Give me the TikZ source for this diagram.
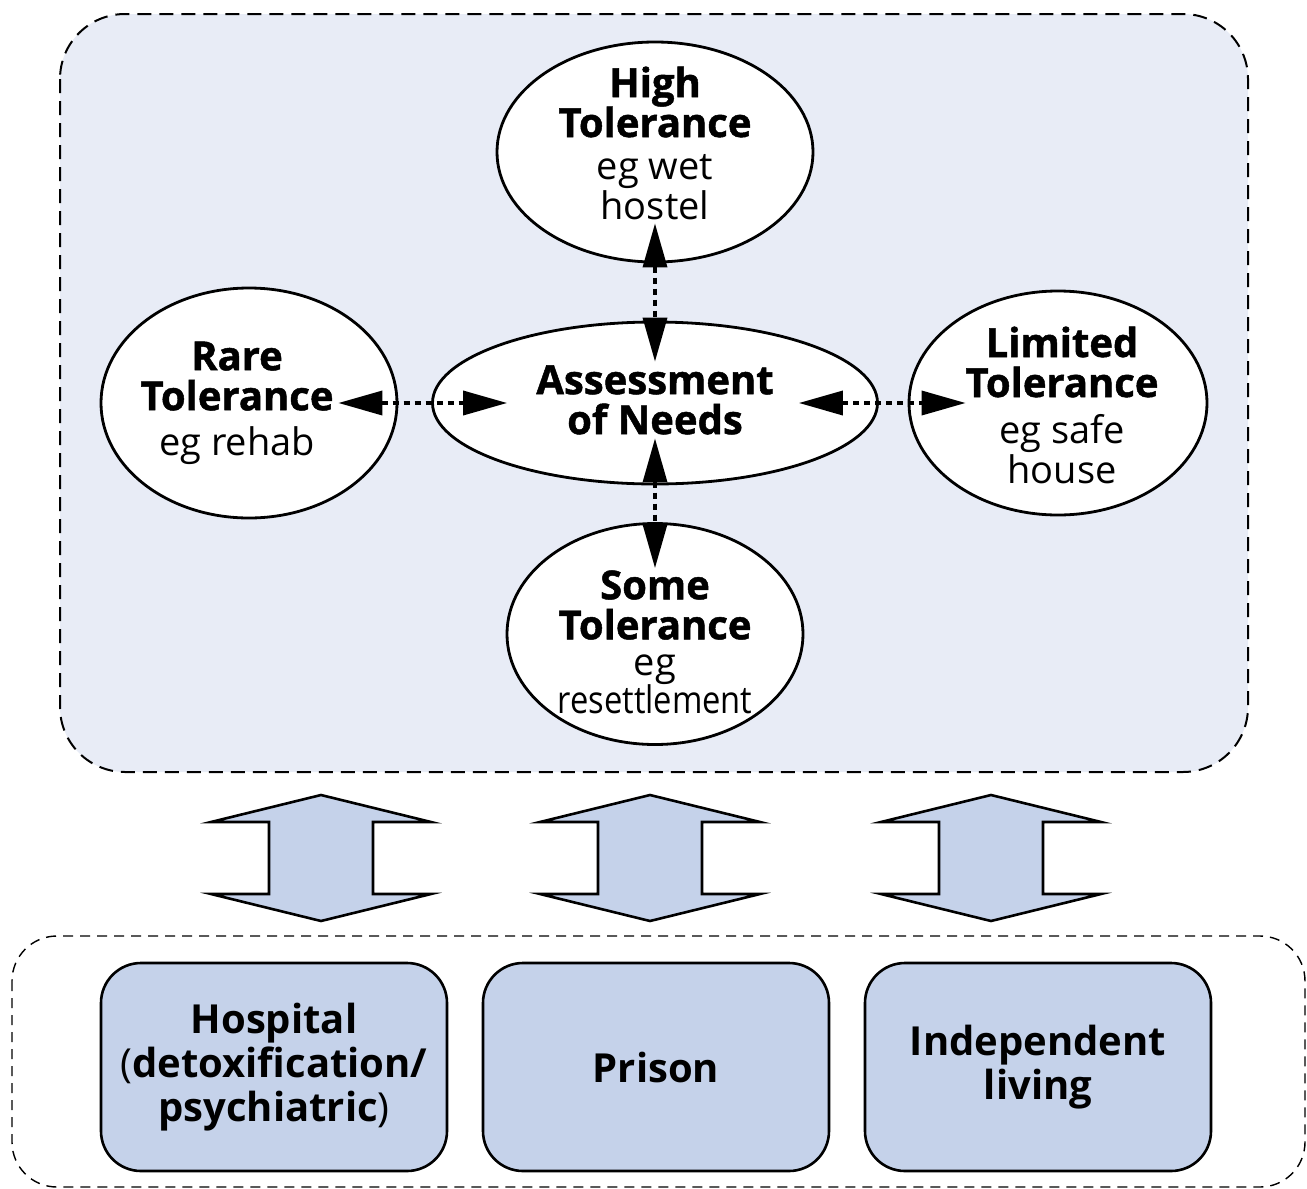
\documentclass[tikz,border=0pt]{standalone}
\usepackage{fontspec}
\setmainfont{Open Sans}
\newfontfamily\heavyfont{Open Sans}[BoldFeatures={FakeBold=1.2}]
\usepackage{tikz}
\usetikzlibrary{arrows.meta, shapes.geometric}
\definecolor{panelblue}{RGB}{232,236,246}
\definecolor{boxblue}{RGB}{197,210,234}
\newcommand{\lvl}[1]{{\heavyfont\bfseries\fontsize{40}{40}\selectfont #1}}

\begin{document}
\begin{tikzpicture}[x=1pt, y=-1pt,
  tolerance/.style={ellipse, draw, line width=2.8pt, fill=white, inner sep=0pt},
  tollabel/.style={align=center, inner sep=0pt, font=\fontsize{38}{40}\selectfont},
  service/.style={rectangle, rounded corners=40pt, draw, line width=2.6pt, fill=boxblue, minimum width=346pt, minimum height=208pt, align=center, font=\bfseries\fontsize{40}{44}\selectfont},
  link/.style={line width=3.6pt, dash pattern=on 6pt off 5pt, {Triangle[length=44pt,width=24pt]}-{Triangle[length=44pt,width=24pt]}}]
\useasboundingbox (0,0) rectangle (1307,1189);
% panels
\draw[dash pattern=on 14pt off 8pt, line width=2pt, fill=panelblue, rounded corners=65pt] (60,14) rectangle (1248,772);
\draw[dash pattern=on 10pt off 7pt, line width=1.4pt, rounded corners=45pt] (12,936) rectangle (1305,1187);
% tolerance levels
\node[tolerance, minimum width=445pt, minimum height=162pt,
  label={[tollabel, yshift=3pt]center:\lvl{Assessment}\\\lvl{of Needs}}] (assess) at (655,403) {};
\node[tolerance, minimum width=316pt, minimum height=220pt,
  label={[tollabel, yshift=9pt]center:\lvl{High}\\\lvl{Tolerance}\\[2pt]eg wet\\hostel}] (high) at (655,152) {};
\node[tolerance, minimum width=296pt, minimum height=230pt,
  label={[tollabel, xshift=-12pt]center:\lvl{Rare}\\\lvl{Tolerance}\\[5pt]eg rehab}] (rare) at (249,403) {};
\node[tolerance, minimum width=298pt, minimum height=224pt,
  label={[tollabel, xshift=4pt, yshift=-2pt]center:\lvl{Limited}\\\lvl{Tolerance}\\[6pt]eg safe\\house}] (limited) at (1058,403) {};
\node[tolerance, minimum width=296pt, minimum height=221pt,
  label={[tollabel, yshift=-8pt]center:\lvl{Some}\\\lvl{Tolerance}\\[-4pt]eg\\[-2pt]\scalebox{0.86}[1]{resettlement}}] (some) at (655,634) {};
\draw[link, shorten <=-60pt, shorten >=-76pt] (rare.east) -- (assess.west);
\draw[link, shorten <=-80pt, shorten >=-58pt] (assess.east) -- (limited.west);
\draw[link, shorten <=-40pt, shorten >=-41pt] (high.south) -- (assess.north);
\draw[link, shorten <=-47pt, shorten >=-46pt] (assess.south) -- (some.north);
% block arrows
\foreach \x in {321,650,991}
  \draw[line width=2.6pt, fill=boxblue] (\x,795) -- ++(110,27) -- ++(-58,0) -- ++(0,72) -- ++(58,0) -- (\x,921)
    -- ++(-110,-27) -- ++(58,0) -- ++(0,-72) -- ++(-58,0) -- cycle;
% services
\node[service] (hospital) at (274,1067) {Hospital\\{\mdseries(}detoxification/\\psychiatric{\mdseries)}};
\node[service] (prison) at (656,1067) {Prison};
\node[service] (living) at (1038,1067) {Independent\\living};
\end{tikzpicture}
\end{document}
